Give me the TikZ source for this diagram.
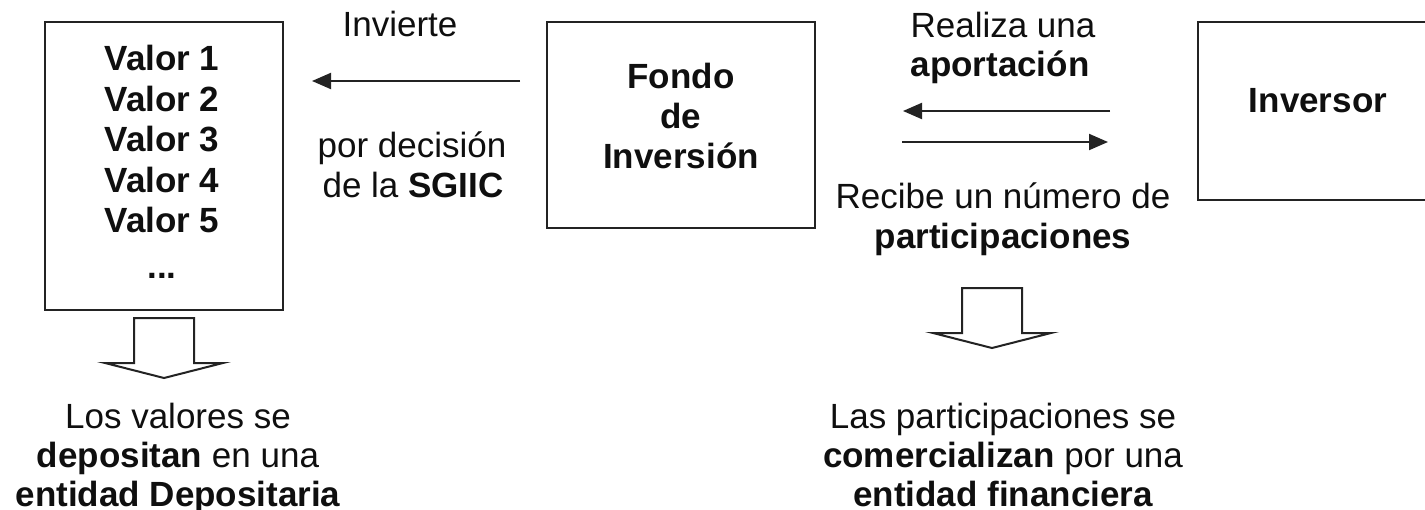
\documentclass[tikz,border=0pt]{standalone}
\usepackage{fontspec}
\setmainfont{Liberation Sans}
\usetikzlibrary{arrows.meta}
\definecolor{linec}{RGB}{35,35,35}
\definecolor{textc}{RGB}{15,15,15}
\tikzset{
  downblk/.pic={\draw[blk] (-30,0) -- (30,0) -- (30,45) -- (59,45) -- (0,60) -- (-59,45) -- (-30,45) -- cycle;}
}
\begin{document}
\begin{tikzpicture}[x=1pt,y=-1pt,
  lbl/.style={anchor=base, inner sep=0pt, text=textc, font=\fontsize{35}{40}\selectfont},
  blbl/.style={anchor=base, inner sep=0pt, text=textc, font=\fontsize{35}{40}\selectfont\bfseries},
  box/.style={draw=linec, line width=2pt, rectangle, inner sep=0pt, outer sep=0pt},
  arr/.style={draw=linec, line width=2pt, -{Triangle[length=19pt,width=16pt]}},
  blk/.style={draw=linec, line width=2pt, fill=white, line join=miter},
]
\useasboundingbox[fill=white] (0,0) rectangle (1425,509);

% boxes
\node[box, minimum width=238pt, minimum height=288pt] (vals) at (164,166) {};
\node[box, minimum width=268pt, minimum height=206pt] (fondo) at (681,125) {};
\node[box, minimum width=247pt, minimum height=178pt] (inv) at (1321.5,111) {};

% box texts
\node[blbl] (v1) at (162,70.5) {Valor 1};
\node[blbl] (v2) at (162,111) {Valor 2};
\node[blbl] (v3) at (162,151.5) {Valor 3};
\node[blbl] (v4) at (162,192) {Valor 4};
\node[blbl] (v5) at (162,232.5) {Valor 5};
\node[blbl] (vd) at (162,278) {...};

\node[blbl] (f1) at (681,88) {Fondo};
\node[blbl] (f2) at (681,128) {de};
\node[blbl] (f3) at (681,168) {Inversión};

\node[blbl] (i1) at (1318,112) {Inversor};

% labels
\node[lbl] (t1) at (400,36) {Invierte};
\node[lbl] (t2) at (412,157) {por decisión};
\node[lbl] (t3) at (413,197) {de la \textbf{SGIIC}};

\node[lbl] (r1) at (1003,37) {Realiza una};
\node[blbl] (r2) at (1000,76) {aportación};
\node[lbl] (r3) at (1003,208) {Recibe un número de};
\node[blbl] (r4) at (1003,248) {participaciones};

\node[lbl] (b1) at (178,428) {Los valores se};
\node[lbl] (b2) at (178,467) {\textbf{depositan} en una};
\node[blbl] (b3) at (178,506) {entidad Depositaria};

\node[lbl] (c1) at (1003,428) {Las participaciones se};
\node[lbl] (c2) at (1003,467) {\textbf{comercializan} por una};
\node[blbl] (c3) at (1003,506) {entidad financiera};

% connectors
\coordinate (yA) at (0,81);
\coordinate (yB) at (0,111);
\coordinate (yC) at (0,142);
\draw[arr, shorten <=27pt, shorten >=29pt] (fondo.west |- yA) -- (vals.east |- yA);
\draw[arr, shorten <=88pt, shorten >=88pt] (inv.west |- yB) -- (fondo.east |- yB);
\draw[arr, shorten <=87pt, shorten >=90pt] (fondo.east |- yC) -- (inv.west |- yC);

% block arrows
\pic (dl) at ([yshift=-8pt]vals.south) {downblk};
\pic (dr) at (992,288) {downblk};
\end{tikzpicture}
\end{document}
